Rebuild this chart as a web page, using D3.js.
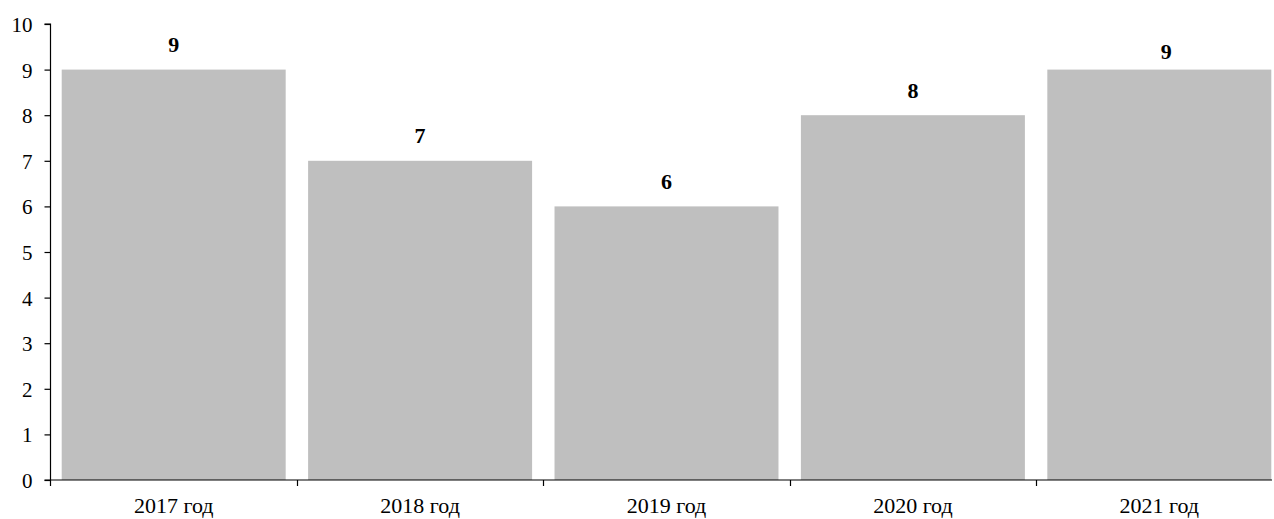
<!DOCTYPE html>
<html>
<head>
<meta charset="utf-8">
<script src="https://cdn.jsdelivr.net/npm/d3@7"></script>
<style>
  html, body { margin: 0; padding: 0; background: #fff; }
  svg { display: block; }
  text { font-family: "Liberation Serif", "Times New Roman", serif; fill: #000; }
</style>
</head>
<body>
<svg id="chart" width="1274" height="519"></svg>
<script>
const categories = ["2017 год", "2018 год", "2019 год", "2020 год", "2021 год"];
const values = [9, 7, 6, 8, 9];
const yTicks = [0, 1, 2, 3, 4, 5, 6, 7, 8, 9, 10];

(function () {
const svg = d3.select("#chart");
const mLeft = 50.5, mRight = 1282.5, mTop = 24, mBottom = 480;
const axisEnd = 1272;

const x = d3.scaleBand().domain(categories).range([mLeft, mRight])
  .paddingInner(0.091).paddingOuter(0.0455);
const y = d3.scaleLinear().domain([0, 10]).range([mBottom, mTop]);

// bars
svg.append("g").selectAll("rect").data(values).join("rect")
  .attr("x", (d, i) => x(categories[i]))
  .attr("y", d => y(d))
  .attr("width", x.bandwidth())
  .attr("height", d => y(0) - y(d))
  .attr("fill", "#bfbfbf");

// value labels
svg.append("g").selectAll("text").data(values).join("text")
  .attr("x", (d, i) => x(categories[i]) + x.bandwidth() / 2 + (i === values.length - 1 ? 7 : 0))
  .attr("y", (d, i) => y(d) - (i === values.length - 1 ? 11 : 17.5))
  .attr("text-anchor", "middle")
  .style("font-size", "22px")
  .style("font-weight", "bold")
  .text(d => d);

// y axis
const yAxis = d3.axisLeft(y).tickValues(yTicks).tickSize(6).tickPadding(12).tickFormat(d3.format("d"));
const gy = svg.append("g").attr("transform", `translate(${mLeft},0)`).call(yAxis);
gy.select(".domain").attr("stroke", "#000").attr("stroke-width", 1.2)
  .attr("d", `M-6,${mTop}H0V${mBottom}`);
gy.selectAll(".tick line").attr("stroke", "#000").attr("stroke-width", 1.2);
gy.selectAll(".tick text").style("font-size", "21px").attr("dy", "0.36em");

// x axis: line, boundary ticks, labels
const gx = svg.append("g");
gx.append("line").attr("x1", mLeft - 6).attr("x2", axisEnd)
  .attr("y1", mBottom).attr("y2", mBottom).attr("stroke", "#000").attr("stroke-width", 1.2);
const step = x.step();
const boundaries = categories.map(c => x(c) - x.paddingInner() * step / 2);
const snap = d => Math.round(d) + 0.5;
gx.selectAll("line.tk").data(boundaries).join("line").attr("class", "tk")
  .attr("x1", d => snap(d)).attr("x2", d => snap(d))
  .attr("y1", mBottom).attr("y2", mBottom + 6)
  .attr("stroke", "#000").attr("stroke-width", 1.2);
gx.selectAll("text").data(categories).join("text")
  .attr("x", d => x(d) + x.bandwidth() / 2)
  .attr("y", 513)
  .attr("text-anchor", "middle")
  .style("font-size", "22px")
  .text(d => d);
})();
</script>
</body>
</html>
